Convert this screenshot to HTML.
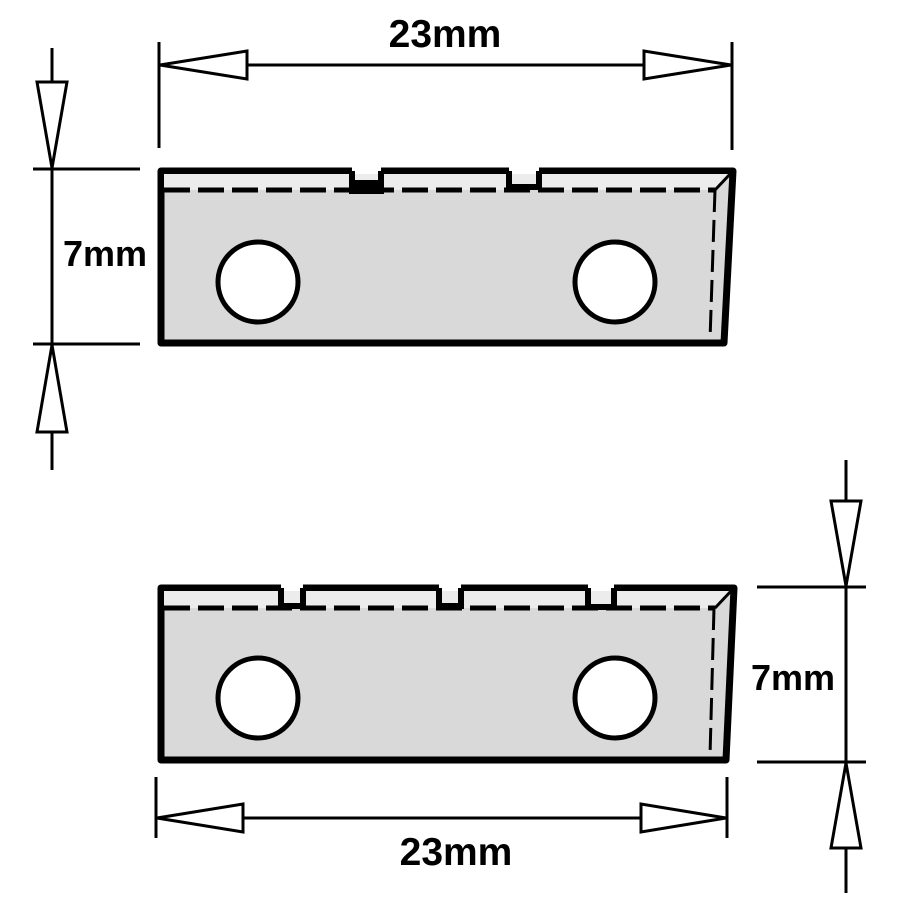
<!DOCTYPE html>
<html><head><style>html,body{margin:0;padding:0;background:#fff}svg{display:block}</style></head>
<body>
<svg width="900" height="900" viewBox="0 0 900 900" xmlns="http://www.w3.org/2000/svg" font-family="Liberation Sans, sans-serif" font-weight="bold">
<g stroke="#000" fill="none" stroke-width="3">
<!-- top dim horizontal -->
<line x1="159" y1="42" x2="159" y2="148"/>
<line x1="732" y1="42" x2="732" y2="150"/>
<line x1="159" y1="65" x2="732" y2="65"/>
<polygon points="160,65 247,51 247,79" fill="#fff"/>
<polygon points="731,65 644,51 644,79" fill="#fff"/>
<!-- left vertical -->
<line x1="52" y1="48" x2="52" y2="470"/>
<line x1="33" y1="169" x2="140" y2="169"/>
<line x1="33" y1="344" x2="140" y2="344"/>
<polygon points="52,168 37,82 67,82" fill="#fff"/>
<polygon points="52,345 37,432 67,432" fill="#fff"/>
<!-- bottom horizontal -->
<line x1="156" y1="777" x2="156" y2="838"/>
<line x1="727" y1="777" x2="727" y2="838"/>
<line x1="156" y1="818" x2="727" y2="818"/>
<polygon points="157,818 243,804 243,832" fill="#fff"/>
<polygon points="726,818 641,804 641,832" fill="#fff"/>
<!-- right vertical -->
<line x1="846" y1="460" x2="846" y2="893"/>
<line x1="757" y1="587" x2="866" y2="587"/>
<line x1="757" y1="762" x2="866" y2="762"/>
<polygon points="846,586 831,501 861,501" fill="#fff"/>
<polygon points="846,763 831,848 861,848" fill="#fff"/>
</g>
<!-- top blade -->
<polygon points="161,171 733,171 724,343 161,343" fill="#d9d9d9" stroke="#000" stroke-width="7" stroke-linejoin="round"/>
<polygon points="164,174 729,174 716,190 164,190" fill="#ececec"/>
<rect x="352" y="166" width="29" height="8" fill="#fff"/>
<rect x="509" y="166" width="30" height="8" fill="#fff"/>
<polyline points="352,171 352,191 381,191 381,171" fill="none" stroke="#000" stroke-width="6"/>
<polyline points="509,171 509,187 539,187 539,171" fill="none" stroke="#000" stroke-width="6"/>
<rect x="355" y="180" width="23" height="11" fill="#000"/>
<line x1="164" y1="190" x2="715" y2="190" stroke="#000" stroke-width="5" stroke-dasharray="26,8"/>
<line x1="715" y1="190" x2="732" y2="172" stroke="#000" stroke-width="3"/>
<line x1="715" y1="190" x2="710" y2="340" stroke="#000" stroke-width="3" stroke-dasharray="22,8"/>
<circle cx="258" cy="282" r="40" fill="#fff" stroke="#000" stroke-width="5"/>
<circle cx="615" cy="282" r="40" fill="#fff" stroke="#000" stroke-width="5"/>
<!-- bottom blade -->
<polygon points="161,588 734,588 726,760 161,760" fill="#d9d9d9" stroke="#000" stroke-width="7" stroke-linejoin="round"/>
<polygon points="164,591 730,591 716,608 164,608" fill="#ececec"/>
<rect x="281" y="583" width="22" height="8" fill="#fff"/>
<rect x="439" y="583" width="22" height="8" fill="#fff"/>
<rect x="588" y="583" width="26" height="8" fill="#fff"/>
<polyline points="281,588 281,606 303,606 303,588" fill="none" stroke="#000" stroke-width="6"/>
<polyline points="439,588 439,606 461,606 461,588" fill="none" stroke="#000" stroke-width="6"/>
<polyline points="588,588 588,607 614,607 614,588" fill="none" stroke="#000" stroke-width="6"/>
<line x1="164" y1="608" x2="715" y2="608" stroke="#000" stroke-width="5" stroke-dasharray="26,8"/>
<line x1="715" y1="608" x2="732" y2="590" stroke="#000" stroke-width="3"/>
<line x1="714" y1="608" x2="710" y2="756" stroke="#000" stroke-width="3" stroke-dasharray="22,8"/>
<circle cx="258" cy="698" r="40" fill="#fff" stroke="#000" stroke-width="5"/>
<circle cx="615" cy="698" r="40" fill="#fff" stroke="#000" stroke-width="5"/>
<!-- labels -->
<text x="445" y="47" font-size="39" text-anchor="middle">23mm</text>
<text x="456" y="865" font-size="39" text-anchor="middle">23mm</text>
<text x="105" y="266" font-size="36" text-anchor="middle">7mm</text>
<text x="793" y="690" font-size="36" text-anchor="middle">7mm</text>
</svg>
</body></html>
